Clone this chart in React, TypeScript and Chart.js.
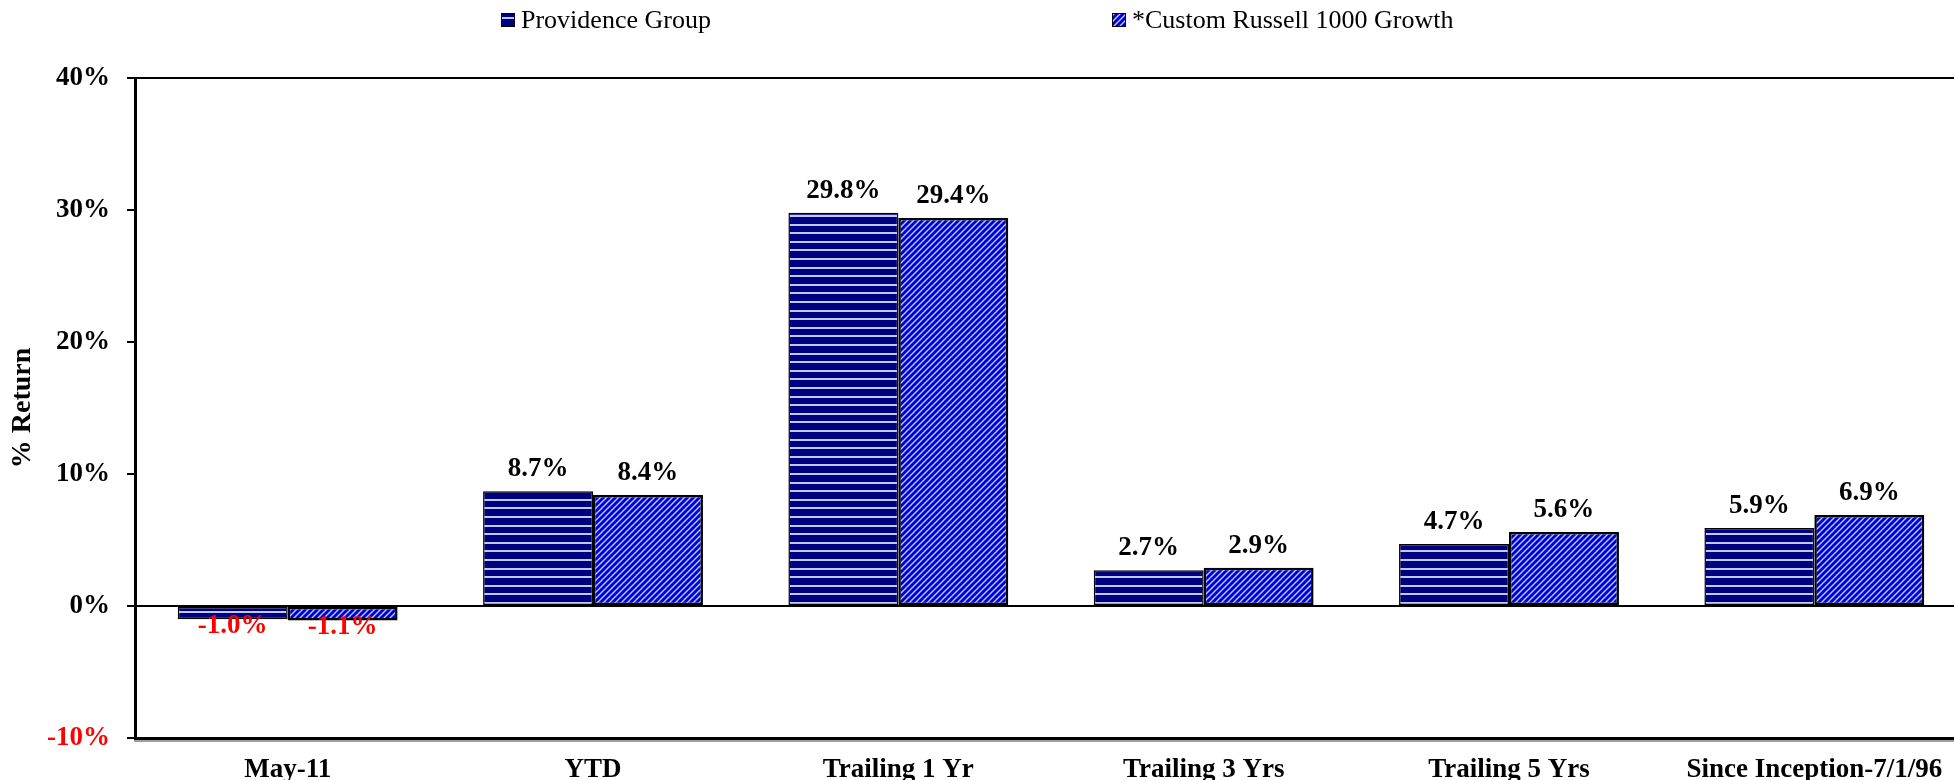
import React, { useEffect, useRef } from "react";
import { Chart, registerables } from "chart.js";

Chart.register(...registerables);

// ---- data ----
const categories = [
  "May-11",
  "YTD",
  "Trailing 1 Yr",
  "Trailing 3 Yrs",
  "Trailing 5 Yrs",
  "Since Inception-7/1/96",
];
const providenceGroup = [-1.0, 8.7, 29.8, 2.7, 4.7, 5.9];
const customRussell1000Growth = [-1.1, 8.4, 29.4, 2.9, 5.6, 6.9];
const seriesNames = ["Providence Group", "*Custom Russell 1000 Growth"];
const yMin = -10;
const yMax = 40;
const yStep = 10;
const yTitle = "% Return";

const FAMILY = '"Liberation Serif", "Times New Roman", serif';
const BOLD = { family: FAMILY, size: 27, weight: "bold" as const, lineHeight: 1.2 };

function horizontalPattern(): CanvasPattern {
  const c = document.createElement("canvas");
  c.width = 8;
  c.height = 43;
  const g = c.getContext("2d")!;
  g.fillStyle = "#000080";
  g.fillRect(0, 0, 8, 43);
  g.fillStyle = "#bccbf2";
  [0, 9, 17, 26, 34].forEach((y) => g.fillRect(0, y, 8, 2));
  return g.createPattern(c, "repeat")!;
}

function diagonalPattern(): CanvasPattern {
  const s = 6;
  const c = document.createElement("canvas");
  c.width = s;
  c.height = s;
  const g = c.getContext("2d")!;
  g.fillStyle = "#0000d4";
  g.fillRect(0, 0, s, s);
  g.strokeStyle = "#b8ccff";
  g.lineWidth = 1.4;
  g.beginPath();
  g.moveTo(0, s);
  g.lineTo(s, 0);
  g.moveTo(-1, 1);
  g.lineTo(1, -1);
  g.moveTo(s - 1, s + 1);
  g.lineTo(s + 1, s - 1);
  g.stroke();
  return g.createPattern(c, "repeat")!;
}

export default function App() {
  const ref = useRef<HTMLCanvasElement>(null);

  useEffect(() => {
    const canvas = ref.current!;
    const pats = [horizontalPattern(), diagonalPattern()];
    const legendPos = [
      { box: 501, text: 521 },
      { box: 1112, text: 1132 },
    ];

    const legendPlugin = {
      id: "customLegend",
      afterDraw(chart: any) {
        const ctx = chart.ctx;
        ctx.save();
        ctx.font = `26px ${FAMILY}`;
        ctx.textBaseline = "alphabetic";
        ctx.textAlign = "left";
        chart.data.datasets.forEach((ds: any, i: number) => {
          const p = legendPos[i];
          ctx.fillStyle = ds.backgroundColor;
          ctx.fillRect(p.box, 13, 14, 14);
          ctx.strokeStyle = "#000";
          ctx.lineWidth = 1;
          ctx.strokeRect(p.box + 0.5, 13.5, 13, 13);
          ctx.fillStyle = "#000";
          ctx.fillText(ds.label, p.text, 28);
        });
        ctx.restore();
      },
    };

    const labelPlugin = {
      id: "valueLabels",
      afterDatasetsDraw(chart: any) {
        const ctx = chart.ctx;
        ctx.save();
        ctx.font = `bold 27px ${FAMILY}`;
        ctx.textAlign = "center";
        ctx.textBaseline = "middle";
        chart.data.datasets.forEach((ds: any, i: number) => {
          chart.getDatasetMeta(i).data.forEach((el: any, j: number) => {
            const v = ds.data[j] as number;
            ctx.fillStyle = v < 0 ? "#ff0000" : "#000000";
            const y = v < 0 ? el.y + 7 : el.y - 22;
            ctx.fillText(v.toFixed(1) + "%", el.x, y);
          });
        });
        ctx.restore();
      },
    };

    const shadowPlugin = {
      id: "axisShadow",
      afterDraw(chart: any) {
        const { ctx, chartArea } = chart;
        ctx.save();
        ctx.strokeStyle = "#a0a0a0";
        ctx.lineWidth = 2;
        ctx.beginPath();
        ctx.moveTo(chartArea.left - 1, chartArea.bottom + 3);
        ctx.lineTo(chartArea.right, chartArea.bottom + 3);
        ctx.stroke();
        ctx.restore();
      },
    };

    const chart = new Chart(canvas, {
      type: "bar",
      data: {
        labels: categories,
        datasets: [
          {
            label: seriesNames[0],
            data: providenceGroup,
            backgroundColor: pats[0] as any,
            borderColor: "#000",
            borderWidth: 1.5,
            borderSkipped: false,
            categoryPercentage: 0.72,
            barPercentage: 1,
          },
          {
            label: seriesNames[1],
            data: customRussell1000Growth,
            backgroundColor: pats[1] as any,
            borderColor: "#000",
            borderWidth: 2.5,
            borderSkipped: false,
            categoryPercentage: 0.72,
            barPercentage: 1,
          },
        ],
      },
      options: {
        responsive: false,
        animation: false,
        devicePixelRatio: 1,
        layout: { padding: { top: 78, left: 0, right: 0, bottom: 0 } },
        plugins: {
          legend: { display: false },
          tooltip: { enabled: false },
        },
        scales: {
          x: {
            grid: { display: true, color: "rgba(0,0,0,0)", drawTicks: false },
            border: { display: true, color: "#000", width: 3 },
            ticks: {
              font: BOLD,
              color: "#000",
              padding: 16,
              maxRotation: 0,
              autoSkip: false,
            },
            afterFit: (s: any) => {
              s.height = 42;
            },
          },
          y: {
            min: yMin,
            max: yMax,
            ticks: {
              stepSize: yStep,
              callback: (v: any) => v + "%",
              font: BOLD,
              color: (c: any) => (c.tick && c.tick.value === yMin ? "#ff0000" : "#000000"),
              padding: 17,
            },
            grid: {
              color: (c: any) =>
                c.tick && (c.tick.value === 0 || c.tick.value === yMax) ? "#000" : "rgba(0,0,0,0)",
              lineWidth: 2,
              tickColor: "#000",
              tickLength: 8,
              tickWidth: 2,
            },
            border: { display: true, color: "#000", width: 3 },
            title: {
              display: true,
              text: yTitle,
              font: { ...BOLD, size: 28 },
              color: "#000",
              padding: { top: 6, bottom: 0 },
            },
            afterFit: (s: any) => {
              s.width = 135;
            },
          },
        },
      },
      plugins: [labelPlugin, legendPlugin, shadowPlugin],
    });
    return () => chart.destroy();
  }, []);

  return (
    <div
      style={{
        position: "fixed",
        left: 0,
        top: 0,
        width: "1954px",
        height: "780px",
        overflow: "hidden",
        background: "#fff",
      }}
    >
      <canvas ref={ref} width={1967} height={780} style={{ display: "block" }} />
    </div>
  );
}
